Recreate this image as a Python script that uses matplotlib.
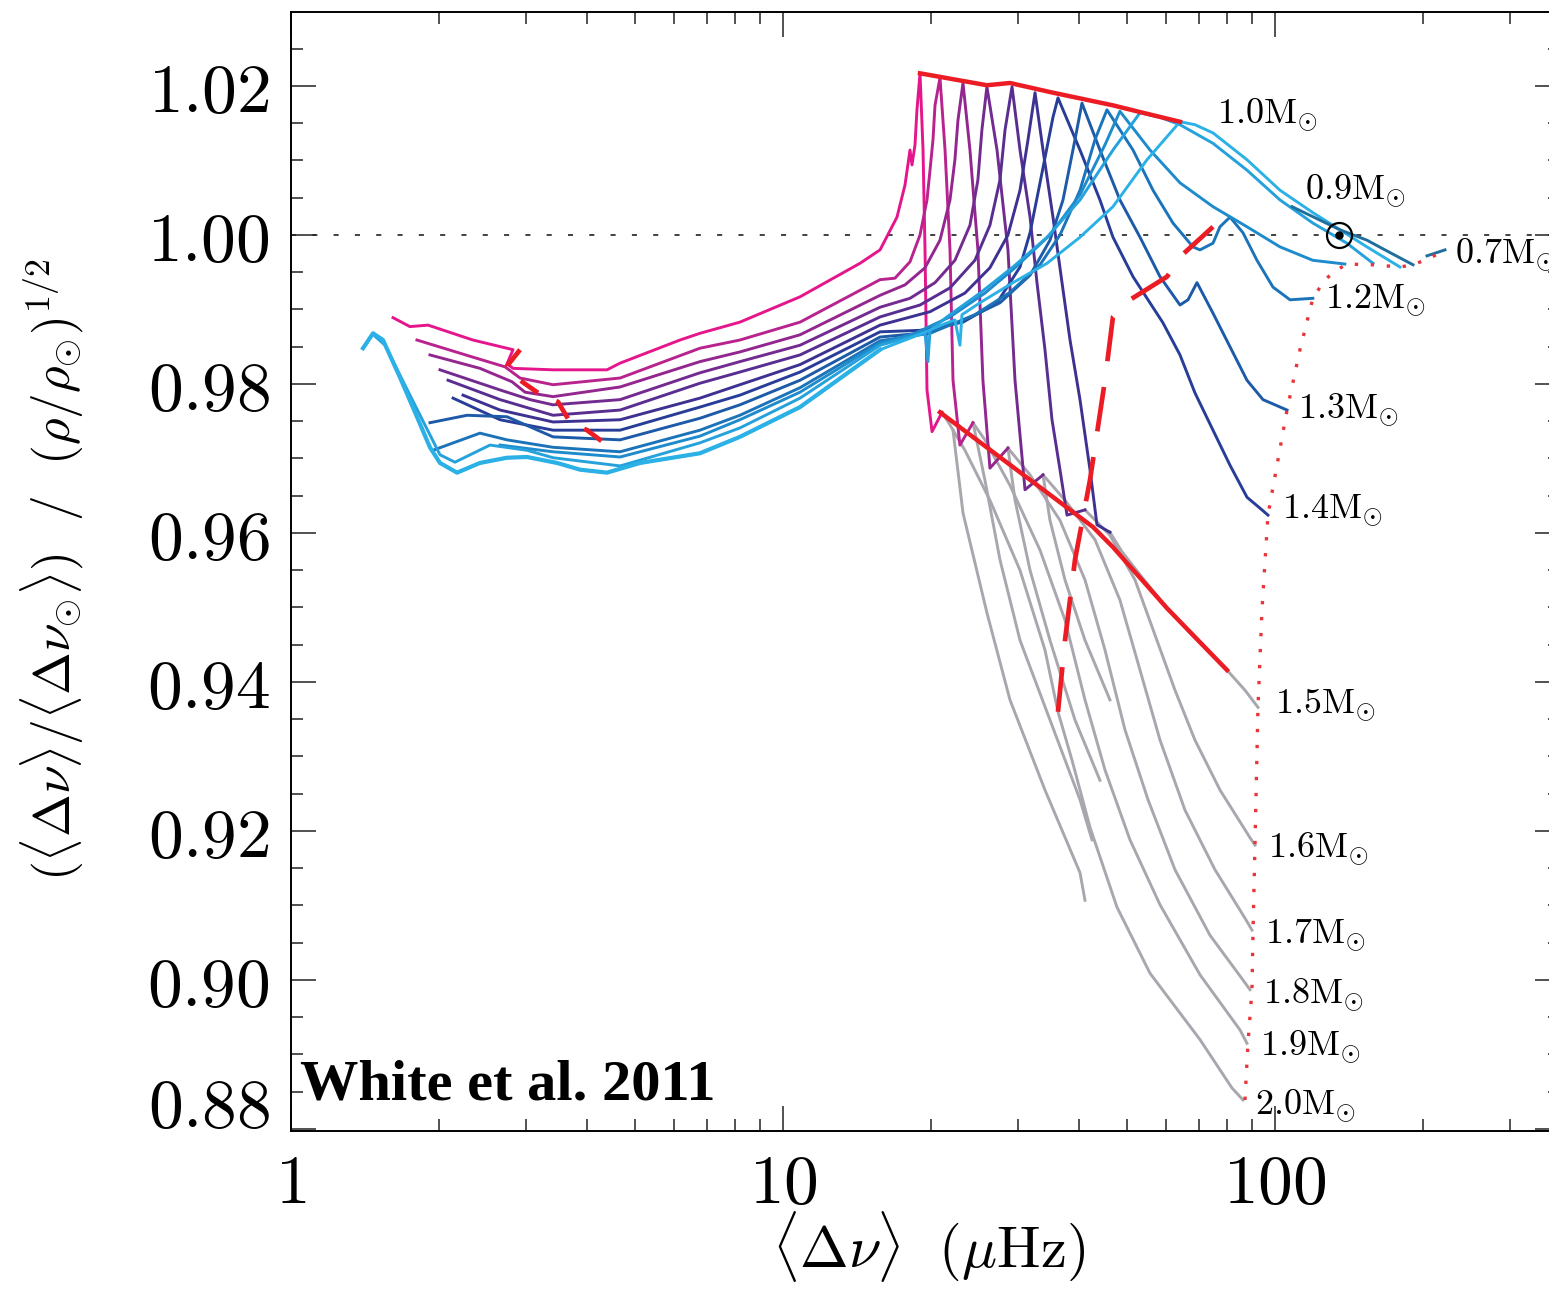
import numpy as np
import matplotlib
matplotlib.use('Agg')
import matplotlib.pyplot as plt
from matplotlib.ticker import FixedLocator, LogLocator, NullFormatter

plt.rcParams['mathtext.fontset'] = 'cm'

# ---- evolutionary tracks: <dnu> (muHz) and ratio ----
# _ms = gray main-sequence part, _br = extra gray branch, plain = coloured part
dnu_20_ms = [86.09, 81.78, 70.40, 55.72, 47.72, 42.07, 38.68, 36.22, 34.08, 30.32, 26.34, 23.43, 21.85, 21.05]
rat_20_ms = [0.8839, 0.8855, 0.8920, 0.9009, 0.9098, 0.9205, 0.9295, 0.9360, 0.9443, 0.9550, 0.9644, 0.9711, 0.9745, 0.9762]
dnu_20_br = [22.16, 23.22, 25.97, 28.93, 34.08, 40.15, 41.10]
rat_20_br = [0.9738, 0.9627, 0.9493, 0.9376, 0.9255, 0.9144, 0.9107]
dnu_20 = [21.05, 20.09, 19.62, 19.44, 19.26, 18.99, 18.72, 18.55, 18.29, 18.12, 17.70, 17.05, 15.75, 14.34,
          10.83, 8.174, 6.780, 6.176, 4.666, 4.388, 3.409, 2.827, 2.748, 2.827, 2.343, 1.899, 1.745, 1.612]
rat_20 = [0.9762, 0.9736, 0.9792, 0.9980, 1.0114, 1.0217, 1.0168, 1.0121, 1.0094, 1.0114, 1.0067, 1.0024, 0.9980, 0.9962,
          0.9917, 0.9883, 0.9868, 0.9859, 0.9828, 0.9819, 0.9819, 0.9821, 0.9827, 0.9846, 0.9859, 0.9879, 0.9877, 0.9889]

dnu_19_ms = [87.72, 84.89, 70.40, 58.39, 50.74, 45.13, 41.10, 37.43, 33.30, 28.93, 25.73, 24.33]
rat_19_ms = [0.8915, 0.8933, 0.9007, 0.9101, 0.9188, 0.9282, 0.9376, 0.9483, 0.9577, 0.9664, 0.9725, 0.9748]
dnu_19_br = [24.33, 25.73, 27.61, 30.32, 34.89, 40.15, 42.47]
rat_19_br = [0.9748, 0.9671, 0.9564, 0.9456, 0.9349, 0.9242, 0.9188]
dnu_19 = [24.33, 22.89, 22.16, 21.85, 21.35, 20.85, 20.37, 20.18, 19.90, 19.62, 18.99, 18.12, 16.89, 15.75,
          10.83, 8.174, 6.780, 4.666, 3.409, 2.921, 2.723, 2.343, 1.803]
rat_19 = [0.9748, 0.9718, 0.9805, 0.9980, 1.0114, 1.0211, 1.0174, 1.0128, 1.0087, 1.0047, 1.0000, 0.9964, 0.9942, 0.9940,
          0.9883, 0.9859, 0.9848, 0.9808, 0.9799, 0.9808, 0.9823, 0.9836, 0.9859]

dnu_18_ms = [88.96, 86.09, 73.78, 62.63, 55.20, 49.55, 45.13, 41.10, 36.56, 31.78, 28.66]
rat_18_ms = [0.8987, 0.9000, 0.9060, 0.9148, 0.9242, 0.9336, 0.9443, 0.9537, 0.9617, 0.9678, 0.9714]
dnu_18_br = [28.66, 29.62, 31.78, 34.89, 39.22, 44.08]
rat_18_br = [0.9714, 0.9644, 0.9550, 0.9456, 0.9349, 0.9268]
dnu_18 = [28.66, 26.34, 25.49, 24.90, 23.99, 23.22, 22.68, 22.36, 21.85, 20.85, 19.44, 17.70, 15.75,
          10.83, 8.174, 6.780, 4.666, 3.409, 2.990, 2.813, 2.421, 1.916]
rat_18 = [0.9714, 0.9687, 0.9805, 0.9980, 1.0114, 1.0204, 1.0154, 1.0101, 1.0047, 0.9993, 0.9956, 0.9933, 0.9919,
          0.9866, 0.9843, 0.9830, 0.9796, 0.9783, 0.9789, 0.9803, 0.9821, 0.9839]

dnu_17_ms = [89.80, 86.90, 75.52, 65.63, 58.39, 53.17, 48.40, 43.07, 37.43, 33.77]
rat_17_ms = [0.9067, 0.9083, 0.9148, 0.9228, 0.9322, 0.9416, 0.9510, 0.9591, 0.9644, 0.9678]
dnu_17_br = [33.77, 34.89, 37.43, 41.10, 46.19]
rat_17_br = [0.9678, 0.9617, 0.9537, 0.9456, 0.9376]
dnu_17 = [33.77, 31.04, 29.62, 28.66, 27.23, 25.97, 25.37, 24.90, 23.99, 22.36, 20.37, 18.12, 15.75,
          10.83, 8.174, 6.780, 4.666, 3.409, 3.061, 2.660, 2.008]
rat_17 = [0.9678, 0.9658, 0.9805, 0.9980, 1.0114, 1.0199, 1.0141, 1.0074, 1.0013, 0.9966, 0.9936, 0.9915, 0.9903,
          0.9852, 0.9830, 0.9815, 0.9779, 0.9772, 0.9779, 0.9792, 0.9819]

dnu_16_ms = [91.06, 88.96, 77.31, 68.77, 62.63, 57.04, 51.94, 46.19, 41.10]
rat_16_ms = [0.9181, 0.9191, 0.9255, 0.9322, 0.9389, 0.9463, 0.9537, 0.9597, 0.9631]
dnu_16 = [41.10, 37.78, 36.56, 35.22, 34.08, 32.83, 31.78, 30.32, 29.21, 28.27, 27.61, 26.34, 24.55, 21.85, 18.99, 15.75,
          10.83, 8.174, 6.780, 4.666, 3.409, 2.660, 2.085]
rat_16 = [0.9631, 0.9624, 0.9685, 0.9752, 0.9846, 0.9936, 1.0024, 1.0114, 1.0199, 1.0141, 1.0074, 1.0013, 0.9966, 0.9929, 0.9906, 0.9890,
          0.9839, 0.9816, 0.9801, 0.9765, 0.9758, 0.9779, 0.9805]

dnu_15_ms = [92.35, 86.90, 79.88, 68.77, 60.33, 53.17, 48.85, 46.19]
rat_15_ms = [0.9366, 0.9389, 0.9416, 0.9459, 0.9499, 0.9544, 0.9575, 0.9601]
dnu_15 = [46.19, 43.47, 42.07, 40.15, 38.32, 36.91, 35.38, 33.77, 32.53, 31.48, 30.32, 28.66, 26.34, 23.43, 19.90, 15.75,
          10.83, 8.174, 6.780, 4.666, 3.409, 2.660, 2.237]
rat_15 = [0.9601, 0.9611, 0.9685, 0.9779, 0.9859, 0.9936, 1.0024, 1.0114, 1.0191, 1.0128, 1.0060, 1.0000, 0.9956, 0.9922, 0.9897, 0.9879,
          0.9826, 0.9799, 0.9781, 0.9752, 0.9749, 0.9765, 0.9785]

dnu_14 = [96.77, 94.10, 87.72, 81.01, 74.82, 68.77, 64.11, 59.21, 51.46, 46.85, 44.08, 40.15, 36.22, 35.38, 33.30, 31.78,
          30.32, 27.23, 23.22, 18.99, 15.75, 10.83, 8.174, 6.780, 4.666, 3.409, 2.660, 2.135]
rat_14 = [0.9624, 0.9631, 0.9648, 0.9691, 0.9738, 0.9788, 0.9839, 0.9882, 0.9944, 0.9997, 1.0047, 1.0114, 1.0184, 1.0158, 1.0070, 1.0003,
          0.9957, 0.9909, 0.9883, 0.9872, 0.9870, 0.9816, 0.9785, 0.9769, 0.9738, 0.9738, 0.9752, 0.9781]

dnu_13 = [105.8, 94.54, 87.72, 81.01, 74.82, 69.42, 66.56, 64.11, 58.39, 53.17, 48.40, 44.08, 40.52, 39.22, 37.08, 34.89,
          31.78, 27.61, 22.89, 18.99, 15.75, 10.83, 8.174, 6.780, 4.666, 3.409, 2.748, 2.280, 1.916]
rat_13 = [0.9765, 0.9779, 0.9805, 0.9850, 0.9895, 0.9936, 0.9913, 0.9906, 0.9944, 0.9997, 1.0047, 1.0114, 1.0177, 1.0128, 1.0047, 0.9993,
          0.9946, 0.9909, 0.9883, 0.9868, 0.9863, 0.9805, 0.9772, 0.9754, 0.9725, 0.9729, 0.9756, 0.9758, 0.9748]

dnu_12 = [119.4, 107.3, 99.07, 91.92, 86.09, 81.01, 77.31, 74.82, 70.40, 68.13, 62.04, 56.51, 51.46, 45.55, 43.07, 40.15,
          36.56, 33.30, 28.93, 24.55, 19.90, 15.75, 10.83, 8.174, 6.780, 4.666, 3.409, 2.748, 2.421, 1.943]
rat_12 = [0.9915, 0.9913, 0.9930, 0.9966, 1.0003, 1.0024, 1.0011, 0.9989, 0.9980, 0.9984, 1.0016, 1.0060, 1.0114, 1.0168, 1.0128, 1.0060,
          1.0000, 0.9960, 0.9923, 0.9893, 0.9868, 0.9858, 0.9795, 0.9758, 0.9738, 0.9709, 0.9715, 0.9725, 0.9734, 0.9711]

dnu_115 = [138.7, 119.4, 102.4, 87.72, 74.82, 64.11, 55.72, 48.40, 45.13, 40.15, 34.89, 29.62, 25.73, 21.85, 18.55, 15.75,
           10.83, 8.174, 6.780, 4.666, 3.409, 2.660]
rat_115 = [0.9961, 0.9966, 0.9984, 1.0011, 1.0038, 1.0070, 1.0114, 1.0166, 1.0121, 1.0054, 1.0000, 0.9956, 0.9922, 0.9890, 0.9868, 0.9855,
           0.9789, 0.9752, 0.9730, 0.9702, 0.9709, 0.9718]

dnu_11 = [158.2, 140.0, 119.4, 102.4, 87.72, 74.82, 64.11, 58.39, 53.17, 46.85, 40.15, 34.41, 29.34, 25.14, 21.54, 19.90,
          19.71, 19.44, 18.37, 15.75, 10.83, 8.174, 6.780, 4.666, 3.409, 3.018, 2.538, 2.154, 2.008, 1.745, 1.553, 1.482]
rat_11 = [0.9962, 0.9989, 1.0016, 1.0047, 1.0087, 1.0123, 1.0148, 1.0158, 1.0164, 1.0114, 1.0047, 0.9997, 0.9957, 0.9922, 0.9890, 0.9872,
          0.9830, 0.9868, 0.9864, 0.9852, 0.9781, 0.9741, 0.9721, 0.9690, 0.9701, 0.9711, 0.9718, 0.9695, 0.9705, 0.9785, 0.9852, 0.9864]

dnu_10 = [179.5, 153.8, 135.5, 119.4, 102.4, 87.72, 74.82, 68.77, 64.11, 54.94, 46.85, 40.15, 34.41, 29.34, 25.14, 23.11,
          22.89, 22.36, 21.54, 18.37, 15.75, 10.83, 8.174, 6.780, 5.123, 4.388, 3.868, 3.473, 3.018, 2.748, 2.421, 2.175,
          2.008, 1.916, 1.803, 1.665, 1.538, 1.468, 1.401]
rat_10 = [0.9957, 0.9984, 1.0007, 1.0030, 1.0060, 1.0101, 1.0137, 1.0148, 1.0152, 1.0101, 1.0038, 0.9997, 0.9962, 0.9936, 0.9909, 0.9893,
          0.9852, 0.9886, 0.9882, 0.9863, 0.9846, 0.9769, 0.9729, 0.9707, 0.9694, 0.9681, 0.9685, 0.9694, 0.9702, 0.9701, 0.9694, 0.9681,
          0.9694, 0.9715, 0.9756, 0.9809, 0.9859, 0.9868, 0.9848]

dnu_09 = [190.8, 167.3, 153.8, 135.5, 108.3]
rat_09 = [0.9960, 0.9980, 0.9993, 1.0007, 1.0038]
dnu_07 = [221.6, 203.7]
rat_07 = [0.9980, 0.9972]

# ---- red reference loci ----
dnu_top = [18.99, 25.97, 28.93, 35.38, 46.85, 53.17, 64.11]
rat_top = [1.0217, 1.0201, 1.0204, 1.0191, 1.0174, 1.0165, 1.0152]
dnu_tams = [20.85, 42.67, 46.85, 60.33, 79.88]
rat_tams = [0.9762, 0.9608, 0.9581, 0.9499, 0.9416]
dnu_dash = [36.22, 37.43, 39.22, 42.07, 45.13, 46.85, 50.74, 60.33, 64.71, 74.82]
rat_dash = [0.9360, 0.9456, 0.9564, 0.9671, 0.9805, 0.9890, 0.9913, 0.9944, 0.9973, 1.0011]
dnu_bump = [2.921, 2.748, 2.921, 3.162, 3.489, 3.689, 3.997, 4.306]
rat_bump = [0.9846, 0.9824, 0.9805, 0.9789, 0.9776, 0.9749, 0.9738, 0.9722]
dnu_zams = [86.90, 88.13, 89.80, 90.22, 91.06, 92.35, 94.10, 96.77, 101.4, 105.8, 112.4, 119.4, 126.3, 133.6, 140.0,
            158.2, 179.5, 190.8, 206.6, 221.6]
rat_zams = [0.8839, 0.8915, 0.8987, 0.9063, 0.9181, 0.9366, 0.9497, 0.9624, 0.9698, 0.9765, 0.9846, 0.9915, 0.9940, 0.9953, 0.9961,
            0.9960, 0.9957, 0.9960, 0.9969, 0.9980]

sun_dnu, sun_rat = 135.1, 1.0

mass_labels = ['1.0', '0.9', '0.7', '1.2', '1.3', '1.4', '1.5', '1.6', '1.7', '1.8', '1.9', '2.0']
label_dnu = [76.2, 115.1, 232.2, 126.4, 111.4, 103.3, 100.0, 96.8, 95.4, 94.5, 93.2, 91.0]
label_rat = [1.0161, 1.0060, 0.9973, 0.9913, 0.9765, 0.9631, 0.9369, 0.9177, 0.9060, 0.8980, 0.8910, 0.8832]

yt = [0.88, 0.90, 0.92, 0.94, 0.96, 0.98, 1.00, 1.02]

gray = '#a9a6ae'
red = '#ec1c24'

fig = plt.figure(figsize=(15.49, 12.97), dpi=100)
ax = fig.add_axes([0.18786, 0.12799, 0.81924, 0.86276])

ax.axhline(1.0, color='#333333', lw=1.3, ls=(0, (2.8, 9.0)), zorder=1)

# gray main-sequence parts
for d, r in [(dnu_20_ms, rat_20_ms), (dnu_20_br, rat_20_br), (dnu_19_ms, rat_19_ms), (dnu_19_br, rat_19_br),
             (dnu_18_ms, rat_18_ms), (dnu_18_br, rat_18_br), (dnu_17_ms, rat_17_ms), (dnu_17_br, rat_17_br),
             (dnu_16_ms, rat_16_ms), (dnu_15_ms, rat_15_ms)]:
    ax.plot(d, r, color=gray, lw=2.1, zorder=2, solid_joinstyle='round')

# coloured parts
tracks = [(dnu_20, rat_20, '#e5168b'), (dnu_19, rat_19, '#b8238e'), (dnu_18, rat_18, '#93278f'),
          (dnu_17, rat_17, '#732b90'), (dnu_16, rat_16, '#582e91'), (dnu_15, rat_15, '#3d3192'),
          (dnu_14, rat_14, '#283d98'), (dnu_13, rat_13, '#1d5aa7'), (dnu_12, rat_12, '#1b74ba'),
          (dnu_115, rat_115, '#1e8bcc'), (dnu_11, rat_11, '#25a1dc'), (dnu_10, rat_10, '#2bb1e6'),
          (dnu_09, rat_09, '#1f6f9e'), (dnu_07, rat_07, '#1f6f9e')]
for d, r, c in tracks:
    ax.plot(d, r, color=c, lw=2.1, zorder=3, solid_joinstyle='round')

# the 1.0 Msun giant branch is drawn heavier
d10 = np.array(dnu_10)
r10 = np.array(rat_10)
ax.plot(d10[d10 < 16], r10[d10 < 16], color='#2bb1e6', lw=3.0, zorder=3, solid_joinstyle='round')

# red loci
ax.plot(dnu_top, rat_top, color=red, lw=3.2, zorder=4)
ax.plot(dnu_tams, rat_tams, color=red, lw=3.2, zorder=4)
ax.plot(dnu_dash, rat_dash, color=red, lw=3.4, ls=(0, (9.5, 5.5)), zorder=4)
ax.plot(dnu_bump, rat_bump, color=red, lw=3.4, ls=(0, (4.5, 4.2)), zorder=4)
ax.plot(dnu_zams, rat_zams, color='#e8353a', lw=2.4, ls=(0, (1.0, 3.8)), zorder=5)

# Sun
ax.plot([sun_dnu], [sun_rat], marker='o', ms=18, mfc='none', mec='black', mew=1.6, zorder=6)
ax.plot([sun_dnu], [sun_rat], marker='o', ms=5, color='black', zorder=6)

for lab, d, r in zip(mass_labels, label_dnu, label_rat):
    ax.text(d, r, r'$' + lab + r'\mathrm{M}_{\odot}$', fontsize=26, ha='left', va='center', zorder=7)

ax.text(0.007, 0.028, 'White et al. 2011', transform=ax.transAxes, fontsize=42, fontweight='bold',
        family='Liberation Serif', ha='left', va='baseline', zorder=8)

ax.set_xscale('log')
ax.set_xlim(1, 379.6)
ax.set_ylim(0.87973, 1.02993)
ax.xaxis.set_major_locator(FixedLocator([1, 10, 100]))
ax.xaxis.set_minor_locator(LogLocator(base=10, subs=np.arange(2, 10), numticks=20))
ax.xaxis.set_minor_formatter(NullFormatter())
ax.set_xticklabels([r'$1$', r'$10$', r'$100$'], fontsize=50)
ax.yaxis.set_major_locator(FixedLocator(yt))
ax.yaxis.set_minor_locator(FixedLocator(np.arange(0.88, 1.0301, 0.005)))
# lowest label sits a little above its tick in the original, so it is drawn separately
ax.set_yticklabels([''] + [r'$%.2f$' % v for v in yt[1:]], fontsize=50)
ax.annotate(r'$%.2f$' % yt[0], xy=(0, yt[0]), xycoords=('axes fraction', 'data'),
            xytext=(-21, 21), textcoords='offset pixels', ha='right', va='center', fontsize=50)

ax.tick_params(which='both', direction='in', top=True, right=True, width=1.1, color='#222222')
ax.tick_params(which='major', length=18)
ax.tick_params(which='minor', length=8.5)
ax.tick_params(axis='y', which='major', pad=15)
ax.tick_params(axis='x', which='major', pad=14)
for s in ax.spines.values():
    s.set_linewidth(1.4)

fig.text(929 / 1549, 1 - 1247 / 1297, r'$\langle\Delta\nu\rangle\ \ (\mu\mathrm{Hz})$', fontsize=42,
         ha='center', va='center')
fig.text(52 / 1549, 1 - 570 / 1297,
         r'$(\langle\Delta\nu\rangle/\langle\Delta\nu_{\odot}\rangle)\ \ /\ \ (\rho/\rho_{\odot})^{1/2}$',
         fontsize=37, rotation=90, ha='center', va='center')

fig.savefig('out.png', dpi=100)
